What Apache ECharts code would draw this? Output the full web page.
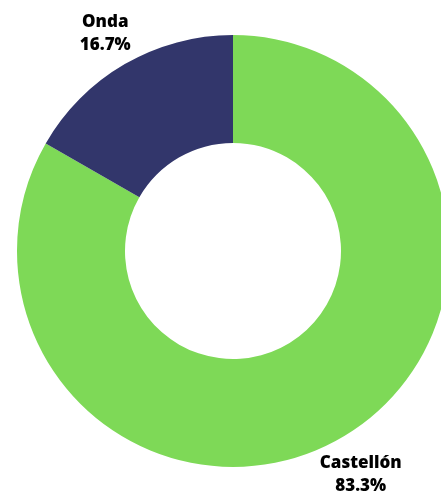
<!DOCTYPE html>
<html>
<head>
<meta charset="utf-8">
<script src="https://cdn.jsdelivr.net/npm/echarts@6/dist/echarts.min.js"></script>
<style>
  html, body { margin: 0; padding: 0; background: #fff; }
  #pie { width: 441px; height: 491px; }
</style>
</head>
<body>
<div id="pie"></div>
<script>
var categories = ['Castellón', 'Onda'];
var values = [83.3, 16.7];
var colors = ['#7ED957', '#32366B'];

var pie = echarts.init(document.getElementById('pie'));

var pieData = categories.map(function (name, i) {
    return { name: name, value: values[i], itemStyle: { color: colors[i] } };
});

var pie_option = {
    animation: false,
    series: [{
        type: 'pie',
        center: [233, 251],
        radius: [108, 216],
        startAngle: 90,
        clockwise: true,
        avoidLabelOverlap: false,
        itemStyle: { borderWidth: 0 },
        label: {
            show: true,
            position: 'outside',
            formatter: function (p) {
                return p.name + '\n' + p.value.toFixed(1) + '%';
            },
            fontFamily: 'Open Sans',
            fontWeight: 800,
            fontSize: 17,
            lineHeight: 23,
            color: '#000',
            distanceToLabelLine: 0
        },
        labelLine: { show: false, length: 39, length2: 0 },
        labelLayout: { align: 'center', dy: 3 },
        emphasis: { disabled: true },
        data: pieData
    }]
};
pie.setOption(pie_option);
</script>
</body>
</html>
